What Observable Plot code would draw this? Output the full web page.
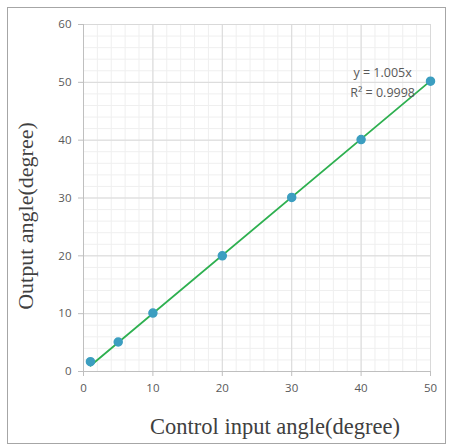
<!DOCTYPE html>
<html><head><meta charset="utf-8">
<script src="https://cdn.jsdelivr.net/npm/d3@7"></script>
<script src="https://cdn.jsdelivr.net/npm/@observablehq/plot@0.6"></script>
<style>
html,body{margin:0;padding:0;background:#fff;}
#wrap{position:relative;width:450px;height:447px;}
#frame{position:absolute;left:7px;top:7px;width:439px;height:437px;border:1px solid #a6a6a6;box-sizing:border-box;}
svg{position:absolute;left:0;top:0;}
</style></head>
<body><div id="wrap"><div id="frame"></div></div>
<script>
const inputAngle = [1, 5, 10, 20, 30, 40, 50];
const outputAngle = [1.7, 5.1, 10.1, 20.0, 30.1, 40.1, 50.2];
const slope = 1.005;
const trendX = [1, 50];
const xTicks = [0, 10, 20, 30, 40, 50];
const yTicks = [0, 10, 20, 30, 40, 50, 60];
const minorX = d3.range(0, 51, 2);
const minorY = d3.range(0, 61, 2);
const equationLines = ["y = 1.005x", "R² = 0.9998"];
const xLabel = "Control input angle(degree)";
const yLabel = "Output angle(degree)";

const pts = inputAngle.map((x, i) => ({x, y: outputAngle[i]}));
const trend = trendX.map(x => ({x, y: slope * x}));
const sans = "'Open Sans', 'Noto Sans', sans-serif";
const serif = "'Liberation Serif', 'Times New Roman', serif";

const plot = Plot.plot({
  width: 450, height: 447,
  marginLeft: 83, marginRight: 20, marginTop: 24, marginBottom: 76,
  style: {fontFamily: sans, fontSize: "11.5px", color: "#595959", background: "transparent"},
  x: {domain: [0, 50], ticks: xTicks, label: null},
  y: {domain: [0, 60], ticks: yTicks, label: null},
  marks: [
    Plot.ruleX(minorX, {stroke: "#efefef", strokeWidth: 1}),
    Plot.ruleY(minorY, {stroke: "#efefef", strokeWidth: 1}),
    Plot.ruleX(xTicks, {stroke: "#d9d9d9", strokeWidth: 1}),
    Plot.ruleY(yTicks, {stroke: "#d9d9d9", strokeWidth: 1}),
    Plot.ruleX([0], {stroke: "#bfbfbf"}),
    Plot.ruleY([0], {stroke: "#bfbfbf"}),
    Plot.axisX({ticks: xTicks, tickSize: 5, tickPadding: 7, stroke: "#bfbfbf", fill: "#595959", label: null}),
    Plot.axisY({ticks: yTicks, tickSize: 5, tickPadding: 7, stroke: "#bfbfbf", fill: "#595959", label: null}),
    Plot.line(trend, {x: "x", y: "y", stroke: "#2eb050", strokeWidth: 1.8}),
    Plot.dot(pts, {x: "x", y: "y", r: 4, fill: "#3c9ec0", stroke: "#3c9ec0"}),
    Plot.text([equationLines[0]], {x: [43.1], y: [51.7], text: d => d, fill: "#595959", fontSize: 12.5, style: "word-spacing:2px"}),
    Plot.text([equationLines[1]], {x: [43.1], y: [48.1], text: d => d, fill: "#595959", fontSize: 12.5}),
    Plot.text([xLabel], {frameAnchor: "bottom", dx: 18, dy: 62, textAnchor: "middle", text: d => d, fill: "#404040", fontSize: 22.5, fontFamily: serif}),
    Plot.text([yLabel], {frameAnchor: "left", dx: -58, dy: 18, textAnchor: "middle", text: d => d, rotate: -90, fill: "#404040", fontSize: 22, fontFamily: serif})
  ]
});
document.getElementById("wrap").appendChild(plot);
</script></body></html>
